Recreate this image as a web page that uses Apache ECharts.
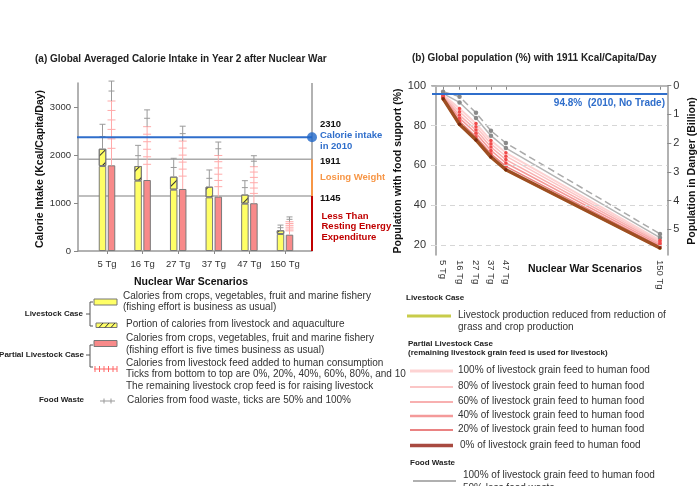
<!DOCTYPE html>
<html><head><meta charset="utf-8">
<script src="https://cdn.jsdelivr.net/npm/echarts@6/dist/echarts.min.js"></script>
<style>html,body{margin:0;padding:0;background:#fff}#c{width:700px;height:486px}</style>
</head><body><div id="c"></div>
<script>
// ---------- Panel (a) data ----------
const categories = ['5 Tg', '16 Tg', '27 Tg', '37 Tg', '47 Tg', '150 Tg'];
const cropsLivestockCase = [1770, 1465, 1278, 1118, 986, 354];
const livestockPortion = [361, 306, 271, 222, 190, 77];
const wasteTopLivestockCase = [2640, 2201, 1931, 1688, 1465, 540];
const cropsPartialCase = [1785, 1479, 1292, 1132, 995, 340];
const feedTickBottom = [2139, 1806, 1560, 1340, 1200, 420];
const feedTickTop = [3125, 2590, 2290, 1990, 1756, 610];
const wasteTopPartialCase = [3540, 2940, 2600, 2270, 1985, 710];
const calorieTicks = [0, 1000, 2000, 3000];
const intake2010Line = 2370;
const losingWeightLine = 1911;
const restingEnergyLine = 1145;

// ---------- Panel (b) data ----------
const scenariosTg = [5, 16, 27, 37, 47, 150];
const pctTicks = [20, 40, 60, 80, 100];
const billionTicks = [0, 1, 2, 3, 4, 5];
const wasteHalf = [97.0, 94.5, 86.4, 77.4, 71.2, 25.6];
const waste100 = [96.0, 91.6, 83.8, 74.9, 68.7, 23.7];
const feed100 = [95.4, 88.6, 81.0, 72.5, 66.3, 22.4];
const feed80 = [95.0, 86.9, 79.4, 70.8, 64.6, 21.6];
const feed60 = [94.6, 85.3, 77.7, 69.2, 62.9, 20.9];
const feed40 = [94.2, 83.7, 76.1, 67.5, 61.2, 20.1];
const feed20 = [93.9, 82.1, 74.4, 65.8, 59.5, 19.3];
const feed0 = [93.5, 80.6, 72.8, 64.2, 57.8, 18.5];
const livestockCase = [93.3, 80.4, 72.6, 64.0, 57.6, 18.3];
const noTrade2010 = 96.2;

const FONT = '"Liberation Sans", Arial, sans-serif';
const chart = echarts.init(document.getElementById('c'));

function pairs(arr) { return scenariosTg.map((x, i) => [x, arr[i]]); }

const errRows = categories.map((c, i) => [i, cropsLivestockCase[i] + livestockPortion[i], wasteTopLivestockCase[i],
  cropsPartialCase[i], feedTickBottom[i], feedTickTop[i], wasteTopPartialCase[i]]);

function seg(x1, y1, x2, y2, color, w) {
  return { type: 'line', shape: { x1, y1, x2, y2 }, style: { stroke: color, lineWidth: w || 1 } };
}
function renderErr(params, api) {
  const i = api.value(0);
  const px = v => api.coord([i, v]);
  const ch = [];
  const gray = '#9a9a9a', pink = '#ffaaaa';
  const a = px(api.value(1)), b = px(api.value(2));
  const xl = a[0] - 4.5;
  ch.push(seg(xl, a[1], xl, b[1], gray, 1));
  ch.push(seg(xl - 3, b[1], xl + 3, b[1], gray, 1));
  const mid1 = (a[1] + b[1]) / 2;
  ch.push(seg(xl - 3, mid1, xl + 3, mid1, gray, 1));
  const r = px(api.value(3)), pb = px(api.value(4)), pt = px(api.value(5)), wt = px(api.value(6));
  const xr = r[0] + 4.5;
  ch.push(seg(xr, r[1], xr, pt[1], pink, 1));
  for (let k = 0; k <= 5; k++) {
    const y = pb[1] + (pt[1] - pb[1]) * k / 5;
    ch.push(seg(xr - 4, y, xr + 4, y, pink, 1));
  }
  ch.push(seg(xr, pt[1], xr, wt[1], gray, 1));
  ch.push(seg(xr - 3, wt[1], xr + 3, wt[1], gray, 1));
  const mid2 = (pt[1] + wt[1]) / 2;
  ch.push(seg(xr - 3, mid2, xr + 3, mid2, gray, 1));
  return { type: 'group', children: ch };
}

function T(x, y, text, o) {
  o = o || {};
  return { type: 'text', x, y, rotation: o.rot || 0, z: 100,
    style: { text, fill: o.color || '#333', font: (o.font || '10px') + ' ' + FONT,
      textAlign: o.align || 'left', textVerticalAlign: o.va || 'middle',
      align: o.align || 'left', verticalAlign: o.va || 'middle' } };
}
function L(x1, y1, x2, y2, color, w, dash) {
  return { type: 'line', z: 100, shape: { x1, y1, x2, y2 }, style: { stroke: color, lineWidth: w || 1, lineDash: dash || null } };
}
function R(x, y, w, h, fill) {
  return { type: 'rect', z: 100, shape: { x, y, width: w, height: h }, style: { fill, stroke: '#777', lineWidth: 1 } };
}
function bracket(x, y1, y2, ym) {
  return [L(x, y1, x, y2, '#555', 1), L(x, y1, x + 3, y1, '#555', 1), L(x, y2, x + 3, y2, '#555', 1), L(x - 4, ym, x, ym, '#555', 1)];
}

const graphics = [
  T(35, 59, '(a) Global Averaged Calorie Intake in Year 2 after Nuclear War', { font: 'bold 10px', color: '#222' }),
  T(412, 58, '(b) Global population (%) with 1911 Kcal/Capita/Day', { font: 'bold 10px', color: '#222' }),
  T(40, 169, 'Calorie Intake (Kcal/Capita/Day)', { font: 'bold 10.5px', color: '#111', rot: Math.PI / 2, align: 'center' }),
  T(191, 282, 'Nuclear War Scenarios', { font: 'bold 10.5px', color: '#111', align: 'center' }),
  T(398, 171, 'Population with food support (%)', { font: 'bold 10.5px', color: '#111', rot: Math.PI / 2, align: 'center' }),
  T(692, 171, 'Population in Danger (Billion)', { font: 'bold 10.5px', color: '#111', rot: Math.PI / 2, align: 'center' }),
  T(585, 269, 'Nuclear War Scenarios', { font: 'bold 10.5px', color: '#111', align: 'center' }),
  T(665, 103, '94.8%  (2010, No Trade)', { font: 'bold 10px', color: '#2f6ecb', align: 'right' }),
  T(320, 124, '2310', { font: 'bold 9.5px', color: '#111' }),
  T(320, 135, 'Calorie intake', { font: 'bold 9.5px', color: '#2f6ecb' }),
  T(320, 146, 'in 2010', { font: 'bold 9.5px', color: '#2f6ecb' }),
  T(320, 161.5, '1911', { font: 'bold 9.5px', color: '#111' }),
  T(320, 177, 'Losing Weight', { font: 'bold 9.5px', color: '#f79646' }),
  T(320, 198, '1145', { font: 'bold 9.5px', color: '#111' }),
  T(321.5, 216, 'Less Than', { font: 'bold 9.5px', color: '#c00000' }),
  T(321.5, 226.5, 'Resting Energy', { font: 'bold 9.5px', color: '#c00000' }),
  T(321.5, 237, 'Expenditure', { font: 'bold 9.5px', color: '#c00000' }),
  T(83, 314, 'Livestock Case', { font: 'bold 8px', color: '#222', align: 'right' }),
  ...bracket(90, 302, 326, 314),
  R(94, 299, 23, 6, '#ffff66'),
  T(123, 296, 'Calories from crops, vegetables, fruit and marine fishery'),
  T(123, 307.5, '(fishing effort is business as usual)'),
  R(96, 323, 21, 4.5, '#ffff66'),
  L(99, 327.5, 103, 323, '#333', 1), L(105, 327.5, 109, 323, '#333', 1), L(111, 327.5, 115, 323, '#333', 1),
  T(126, 324.5, 'Portion of calories from livestock and aquaculture'),
  T(84, 355, 'Partial Livestock Case', { font: 'bold 8px', color: '#222', align: 'right' }),
  ...bracket(90, 345, 367, 355),
  R(94, 340.5, 23, 6, '#f88a8a'),
  T(126, 338, 'Calories from crops, vegetables, fruit and marine fishery'),
  T(126, 350, '(fishing effort is five times business as usual)'),
  L(94, 369, 117, 369, '#ff6666', 1),
  L(95, 366, 95, 372, '#ff6666', 1), L(99.5, 366, 99.5, 372, '#ff6666', 1), L(104, 366, 104, 372, '#ff6666', 1),
  L(108.5, 366, 108.5, 372, '#ff6666', 1), L(113, 366, 113, 372, '#ff6666', 1), L(117, 366, 117, 372, '#ff6666', 1),
  T(126, 363, 'Calories from livestock feed added to human consumption'),
  T(126, 374.5, 'Ticks from bottom to top are 0%, 20%, 40%, 60%, 80%, and 10'),
  T(126, 386, 'The remaining livestock crop feed is for raising livestock'),
  T(84, 400, 'Food Waste', { font: 'bold 8px', color: '#222', align: 'right' }),
  L(100, 401, 115, 401, '#999', 1), L(104, 398.5, 104, 403.5, '#999', 1), L(111, 398.5, 111, 403.5, '#999', 1),
  T(127, 400, 'Calories from food waste, ticks are 50% and 100%'),
  T(406, 298, 'Livestock Case', { font: 'bold 8px', color: '#222' }),
  L(407, 316, 451, 316, '#c8cc4a', 3),
  T(458, 315.5, 'Livestock production reduced from reduction of'),
  T(458, 327, 'grass and crop production'),
  T(408, 343.5, 'Partial Livestock Case', { font: 'bold 8px', color: '#222' }),
  T(408, 353, '(remaining livestock grain feed is used for livestock)', { font: 'bold 8px', color: '#222' }),
  L(410, 371, 453, 371, '#fdd3d3', 3),
  T(458, 370.5, '100% of livestock grain feed to human food'),
  L(410, 387, 453, 387, '#fbc6c6', 2),
  T(458, 386.5, '80% of livestock grain feed to human food'),
  L(410, 402, 453, 402, '#f8b0b0', 2),
  T(458, 401.5, '60% of livestock grain feed to human food'),
  L(410, 416, 453, 416, '#f49a9a', 2.5),
  T(458, 415.5, '40% of livestock grain feed to human food'),
  L(410, 430, 453, 430, '#ea8282', 2),
  T(458, 429.5, '20% of livestock grain feed to human food'),
  L(410, 445.5, 453, 445.5, '#a84a40', 3.5),
  T(460, 445, '0% of livestock grain feed to human food'),
  T(410, 463, 'Food Waste', { font: 'bold 8px', color: '#222' }),
  L(413, 481, 456, 481, '#b0b0b0', 2),
  T(463, 475.5, '100% of livestock grain feed to human food'),
  T(463, 488, '50% less food waste')
];

const pinkLine = (name, data, color, w) => ({
  name, type: 'line', xAxisIndex: 2, yAxisIndex: 2, data: pairs(data), z: 4,
  lineStyle: { color, width: w || 1.5 }, symbol: 'circle', symbolSize: 3.5,
  itemStyle: { color: '#f04a4a' }
});

const option = {
  animation: false,
  backgroundColor: '#fff',
  textStyle: { fontFamily: FONT },
  grid: [
    { left: 89.2, top: 83, width: 213.6, height: 168 },
    { left: 78, top: 83, width: 234, height: 168 },
    { left: 432, top: 85.7, width: 235.3, height: 169.3 }
  ],
  xAxis: [
    { gridIndex: 0, type: 'category', data: categories, axisLine: { show: false },
      axisTick: { show: true, alignWithLabel: true, length: 3, lineStyle: { color: '#888' } },
      axisLabel: { fontSize: 9.5, color: '#333', margin: 8, interval: 0 } },
    { gridIndex: 1, type: 'value', min: 0, max: 1, axisLine: { show: true, lineStyle: { color: '#999', width: 1.5 } },
      axisTick: { show: false }, axisLabel: { show: false }, splitLine: { show: false } },
    { gridIndex: 2, type: 'value', min: -2.4, max: 154.9, axisLine: { show: true, lineStyle: { color: '#999', width: 1.5 } },
      axisTick: { show: true, customValues: scenariosTg, length: 4, lineStyle: { color: '#888' } },
      axisLabel: { customValues: scenariosTg, formatter: v => v + ' Tg', rotate: -90, fontSize: 9.5, color: '#333', margin: 5 },
      splitLine: { show: false } }
  ],
  yAxis: [
    { gridIndex: 0, type: 'value', min: 0, max: 3500, show: false },
    { gridIndex: 1, type: 'value', min: 0, max: 3500, axisLine: { show: true, lineStyle: { color: '#999', width: 1.5 } },
      axisTick: { show: true, customValues: calorieTicks, length: 4, lineStyle: { color: '#888' } },
      axisLabel: { customValues: calorieTicks, formatter: v => String(v), fontSize: 9.5, color: '#333', margin: 7 }, splitLine: { show: false } },
    { gridIndex: 2, type: 'value', min: 15, max: 100, axisLine: { show: true, lineStyle: { color: '#999', width: 1.5 } },
      axisTick: { show: true, customValues: pctTicks, length: 4, lineStyle: { color: '#888' } },
      axisLabel: { customValues: pctTicks, fontSize: 11, color: '#333', margin: 6 }, splitLine: { show: false } },
    { gridIndex: 2, type: 'value', position: 'right', min: 0, max: 5.9, inverse: true,
      axisLine: { show: true, lineStyle: { color: '#999', width: 1.5 } },
      axisTick: { show: true, customValues: billionTicks, length: 4, lineStyle: { color: '#888' } },
      axisLabel: { customValues: billionTicks, fontSize: 11, color: '#333', margin: 6 }, splitLine: { show: false } }
  ],
  series: [
    { name: 'crops livestock', type: 'bar', xAxisIndex: 0, yAxisIndex: 0, stack: 'ls', data: cropsLivestockCase,
      barWidth: 7.5, barGap: '20%', itemStyle: { color: '#ffff66', borderColor: '#7a7a7a', borderWidth: 1 } },
    { name: 'livestock portion', type: 'bar', xAxisIndex: 0, yAxisIndex: 0, stack: 'ls', data: livestockPortion,
      barWidth: 7.5, barGap: '20%', itemStyle: { color: '#ffff66', borderColor: '#7a7a7a', borderWidth: 1,
        decal: { symbol: 'rect', symbolSize: 1, color: '#333', dashArrayX: [1, 0], dashArrayY: [1, 8], rotation: -Math.PI / 4 } } },
    { name: 'crops partial', type: 'bar', xAxisIndex: 0, yAxisIndex: 0, data: cropsPartialCase,
      barWidth: 7.5, barGap: '20%', itemStyle: { color: '#f88a8a', borderColor: '#7a7a7a', borderWidth: 1 } },
    { name: 'err', type: 'custom', xAxisIndex: 0, yAxisIndex: 0, data: errRows, renderItem: renderErr,
      encode: { x: 0, y: [1, 2] }, z: 3, clip: false },
    { type: 'line', xAxisIndex: 1, yAxisIndex: 1, data: [[0, losingWeightLine], [1, losingWeightLine]], symbol: 'none',
      lineStyle: { color: '#aaa', width: 1.5 }, z: 1 },
    { type: 'line', xAxisIndex: 1, yAxisIndex: 1, data: [[0, restingEnergyLine], [1, restingEnergyLine]], symbol: 'none',
      lineStyle: { color: '#aaa', width: 1.5 }, z: 1 },
    { type: 'line', xAxisIndex: 1, yAxisIndex: 1, data: [[1, 0], [1, 3500]], symbol: 'none',
      lineStyle: { color: '#999', width: 1.5 }, z: 2 },
    { type: 'line', xAxisIndex: 1, yAxisIndex: 1, data: [[1, restingEnergyLine], [1, losingWeightLine]], symbol: 'none',
      lineStyle: { color: '#f79646', width: 2 }, z: 3 },
    { type: 'line', xAxisIndex: 1, yAxisIndex: 1, data: [[1, 0], [1, restingEnergyLine]], symbol: 'none',
      lineStyle: { color: '#c00000', width: 2 }, z: 3 },
    { type: 'line', xAxisIndex: 1, yAxisIndex: 1, data: [[-0.111, intake2010Line], [1, intake2010Line]], symbol: 'none',
      lineStyle: { color: '#2f6ecb', width: 2 }, z: 4, clip: false },
    { type: 'scatter', xAxisIndex: 1, yAxisIndex: 1, data: [[1, intake2010Line]], symbolSize: 10,
      itemStyle: { color: '#1f66c8' }, z: 5, clip: false },
    { type: 'line', xAxisIndex: 2, yAxisIndex: 2, data: [], z: 1,
      markLine: { silent: true, symbol: 'none', label: { show: false },
        lineStyle: { color: '#d6d6d6', type: [5, 4], width: 1 },
        data: [{ yAxis: 20 }, { yAxis: 40 }, { yAxis: 60 }, { yAxis: 80 }] } },
    { type: 'line', xAxisIndex: 2, yAxisIndex: 2, data: [], z: 1,
      markLine: { silent: true, symbol: 'none', label: { show: false },
        lineStyle: { color: '#bbb', type: 'solid', width: 1.5 }, data: [{ yAxis: 100 }] } },
    { type: 'line', xAxisIndex: 2, yAxisIndex: 2, data: [], z: 2,
      markLine: { silent: true, symbol: 'none', label: { show: false },
        lineStyle: { color: '#2f6ecb', type: 'solid', width: 2 }, data: [{ yAxis: noTrade2010 }] } },
    { name: 'waste half', type: 'line', xAxisIndex: 2, yAxisIndex: 2, data: pairs(wasteHalf), z: 4,
      lineStyle: { color: '#aaa', width: 1.5, type: [7, 4] }, symbol: 'circle', symbolSize: 4.5, itemStyle: { color: '#8a8a8a' } },
    { name: 'waste 100', type: 'line', xAxisIndex: 2, yAxisIndex: 2, data: pairs(waste100), z: 4,
      lineStyle: { color: '#b4b4b4', width: 1.5 }, symbol: 'circle', symbolSize: 4.5, itemStyle: { color: '#8a8a8a' } },
    pinkLine('100%', feed100, '#fdd3d3', 2),
    pinkLine('80%', feed80, '#fbc6c6', 1.5),
    pinkLine('60%', feed60, '#f8b0b0', 1.5),
    pinkLine('40%', feed40, '#f49a9a', 1.5),
    pinkLine('20%', feed20, '#ea8282', 1.5),
    { name: 'livestock', type: 'line', xAxisIndex: 2, yAxisIndex: 2, data: pairs(livestockCase), z: 4,
      lineStyle: { color: '#c8cc4a', width: 2 }, symbol: 'circle', symbolSize: 3, itemStyle: { color: '#c8cc4a' } },
    { name: '0%', type: 'line', xAxisIndex: 2, yAxisIndex: 2, data: pairs(feed0), z: 5,
      lineStyle: { color: '#9e4e22', width: 3.5 }, symbol: 'circle', symbolSize: 3.5, itemStyle: { color: '#7a2a10' } }
  ],
  graphic: { elements: graphics }
};
chart.setOption(option);
</script></body></html>
